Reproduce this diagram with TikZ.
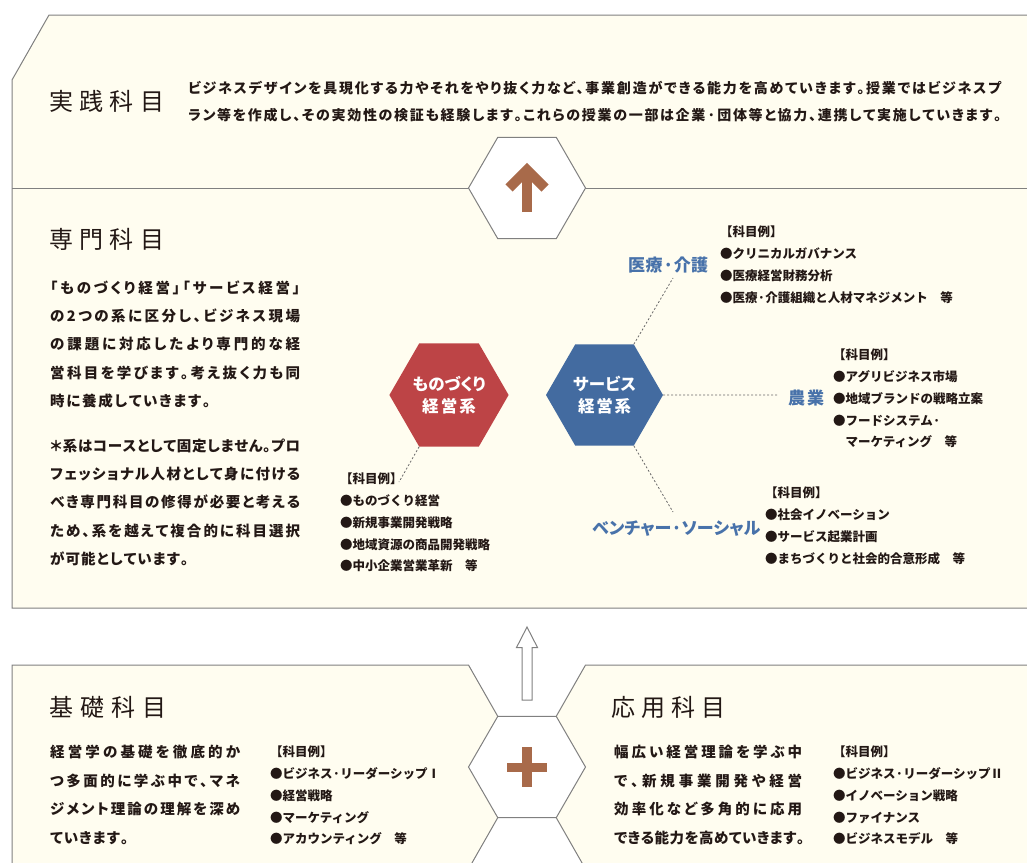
\documentclass[tikz,border=0pt]{standalone}
\usepackage{fontspec}
\usetikzlibrary{shapes.geometric}
\newfontfamily\jpr{Noto Sans CJK JP}
\newfontfamily\jpb{Noto Sans CJK JP}[RawFeature=+palt]
\newfontfamily\jpl{Noto Sans CJK JP}
\definecolor{cream}{RGB}{255,253,240}
\definecolor{linegray}{RGB}{128,128,128}
\definecolor{dashgray}{RGB}{105,105,105}
\definecolor{redhex}{RGB}{189,68,70}
\definecolor{bluehex}{RGB}{67,107,160}
\definecolor{bluetext}{RGB}{72,114,170}
\definecolor{brownmark}{RGB}{168,106,74}
\definecolor{ink}{RGB}{35,24,21}
\def\spreadaux#1{#1\spreadnext}
\def\spreadnext#1{\ifx\relax#1\else\sg#1\expandafter\spreadnext\fi}
\newcommand\sline[2]{\hbox to #1{\let\sg\hfil\spreadaux#2\relax}}
\begin{document}
\begin{tikzpicture}[x=1pt,y=-1pt,
  border/.style={draw=linegray,line width=1pt},
  hexw/.style={regular polygon,regular polygon sides=6,minimum size=117pt,inner sep=0pt,fill=white,draw=linegray,line width=1pt},
  hexc/.style={regular polygon,regular polygon sides=6,minimum size=117pt,inner sep=0pt,draw=none,text=white,align=center,font=\jpb\bfseries\fontsize{16.5pt}{22pt}\selectfont},
  title/.style={anchor=base west,inner sep=0pt,text=ink,font=\jpr\fontsize{24pt}{28pt}\selectfont},
  desc/.style={anchor=base west,inner sep=0pt,align=left,text=ink,font=\jpb\bfseries\fontsize{14pt}{27.5pt}\selectfont},
  body/.style={anchor=base west,inner sep=0pt,align=left,text=ink,font=\jpb\bfseries\fontsize{14.5pt}{28.2pt}\selectfont},
  bodyb/.style={body,font=\jpb\bfseries\fontsize{14.5pt}{28.7pt}\selectfont},
  lst/.style={anchor=base west,inner sep=0pt,align=left,text=ink,font=\jpl\bfseries\fontsize{12.5pt}{21.8pt}\selectfont},
  blab/.style={anchor=base west,inner sep=0pt,text=bluetext,font=\jpb\bfseries\fontsize{17pt}{20pt}\selectfont},
  dashline/.style={draw=dashgray,line width=0.8pt,dash pattern=on 2pt off 2pt}]
\useasboundingbox (0,0) rectangle (1027,862);
\clip (0,0) rectangle (1027,862);
% panel fills
\fill[cream] (49,15) -- (1027,15) -- (1027,608) -- (12,608) -- (12,80) -- cycle;
\fill[cream] (12,665) -- (468.5,665) -- (497.75,716.3) -- (468.5,767) -- (497.75,817.7) -- (468.5,869) -- (12,869) -- cycle;
\fill[cream] (1027,665) -- (585.5,665) -- (556.25,716.3) -- (585.5,767) -- (556.25,817.7) -- (585.5,869) -- (1027,869) -- cycle;
% panel borders
\draw[border] (1028,15) -- (49,15) -- (12,80) -- (12,608) -- (1028,608);
\draw[border] (12,188) -- (1028,188);
\draw[border] (12,870) -- (12,665) -- (468.5,665) -- (497.75,716.3);
\draw[border] (497.75,817.7) -- (468.5,869);
\draw[border] (1028,665) -- (585.5,665) -- (556.25,716.3);
\draw[border] (556.25,817.7) -- (585.5,869);
% white hexagons
\node[hexw] (uphex) at (527,188) {};
\node[hexw] (plushex) at (527,767) {};
% brown up arrow
\draw[brownmark,line width=10pt] (527,212) -- (527,172);
\draw[brownmark,line width=10pt,miter limit=10] (509,188) -- (527,170) -- (545,188);
% brown plus
\fill[brownmark] (507,762.5) rectangle (547,771.5);
\fill[brownmark] (522,747) rectangle (532,787);
% hollow arrow
\draw[border,fill=white] (527,627) -- (537.5,647.5) -- (532,647.5) -- (532,700) -- (522,700) -- (522,647.5) -- (516.5,647.5) -- cycle;
% titles
\node[title] (jissen) at (49,110) {\sline{115pt}{実践科目}};
\node[title] (senmon) at (49,248) {\sline{115pt}{専門科目}};
\node[title] (kiso) at (49,716.5) {\sline{117pt}{基礎科目}};
\node[title] (oyo) at (611,716.5) {\sline{114pt}{応用科目}};
% top description (anchor = baseline of last line)
\node[desc] (jissentext) at (188,120.7) {\sline{813pt}{ビジネスデザインを具現化する力やそれをやり抜く力など、事業創造ができる能力を高めていきます。授業ではビジネスプ}\\%
\sline{813pt}{ラン等を作成し、その実効性の検証も経験します。これらの授業の一部は企業·団体等と協力、連携して実施していきます。}};
% middle paragraphs
\node[body] (senmontext1) at (50,406.2) {\sline{250pt}{「ものづくり経営」「サービス経営」}\\%
\sline{250pt}{の2つの系に区分し、ビジネス現場}\\%
\sline{250pt}{の課題に対応したより専門的な経}\\%
\sline{250pt}{営科目を学びます。考え抜く力も同}\\%
\sline{160pt}{時に養成していきます。}};
\node[body] (senmontext2) at (50,564.2) {\sline{250pt}{＊系はコースとして固定しません。プロ}\\%
\sline{250pt}{フェッショナル人材として身に付ける}\\%
\sline{250pt}{べき専門科目の修得が必要と考える}\\%
\sline{250pt}{ため、系を越えて複合的に科目選択}\\%
\sline{138pt}{が可能としています。}};
% hexagons of the two systems
\node[hexc,fill=redhex] (mono) at (449,395) {\sline{73pt}{ものづくり}\\\sline{54pt}{経営系}};
\node[hexc,fill=bluehex] (serv) at (604.5,395) {\sline{63pt}{サービス}\\\sline{53pt}{経営系}};
% blue labels
\node[blab] (iryo) at (628,271.3) {\sline{80pt}{医療·介護}};
\node[blab] (nogyo) at (788,404.3) {\sline{36pt}{農業}};
\node[blab] (venture) at (592,534.3) {\sline{156pt}{ベンチャー·ソーシャル}};
% dashed connectors
\coordinate (iryoend) at (673,278);
\coordinate (nogyoend) at (779,395);
\coordinate (ventend) at (673,512);
\coordinate (monoend) at (399,482);
\draw[dashline] (serv.60) -- (iryoend);
\draw[dashline] (serv.0) -- (nogyoend);
\draw[dashline] (serv.-60) -- (ventend);
\draw[dashline] (mono.-120) -- (monoend);
% lists (anchor = baseline of last line)
\node[lst] (monolist) at (340,570.8) {【科目例】\\●ものづくり経営\\●新規事業開発戦略\\●地域資源の商品開発戦略\\●中小企業営業革新　等};
\node[lst] (iryolist) at (720,302) {【科目例】\\●クリニカルガバナンス\\●医療経営財務分析\\●医療·介護組織と人材マネジメント　等};
\node[lst] (nogyolist) at (833,446.8) {【科目例】\\●アグリビジネス市場\\●地域ブランドの戦略立案\\●フードシステム·\\\phantom{●}マーケティング　等};
\node[lst] (ventlist) at (765,563) {【科目例】\\●社会イノベーション\\●サービス起業計画\\●まちづくりと社会的合意形成　等};
% bottom paragraphs
\node[bodyb] (kisotext) at (50,843.5) {\sline{190pt}{経営学の基礎を徹底的か}\\%
\sline{190pt}{つ多面的に学ぶ中で、マネ}\\%
\sline{190pt}{ジメント理論の理解を深め}\\%
\sline{78pt}{ていきます。}};
\node[bodyb] (oyotext) at (614,843.5) {\sline{188pt}{幅広い経営理論を学ぶ中}\\%
\sline{188pt}{で、新規事業開発や経営}\\%
\sline{188pt}{効率化など多角的に応用}\\%
\sline{190pt}{できる能力を高めていきます。}};
\node[lst] (kisolist) at (270,843.8) {【科目例】\\●ビジネス·リーダーシップⅠ\\●経営戦略\\●マーケティング\\●アカウンティング　等};
\node[lst] (oyolist) at (833,843.8) {【科目例】\\●ビジネス·リーダーシップⅡ\\●イノベーション戦略\\●ファイナンス\\●ビジネスモデル　等};
\end{tikzpicture}
\end{document}
